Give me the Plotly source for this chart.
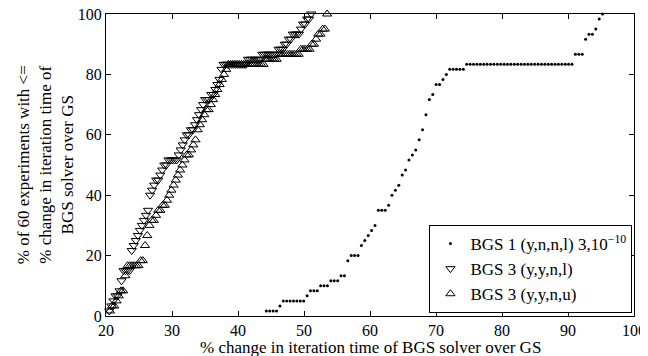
import plotly.graph_objects as go

N_EXPERIMENTS = 60

# BGS 1 (y,n,n,l) 3,10^-10 : x grid and number of experiments with <= x
bgs1_x = [44.29, 44.80, 45.32, 45.83, 46.35, 46.86, 47.38, 47.89, 48.41, 48.92,
          49.44, 49.95, 50.47, 50.98, 51.50, 52.01, 52.52, 53.04, 53.55, 54.07,
          54.58, 55.10, 55.61, 56.13, 56.64, 57.16, 57.67, 58.19, 58.70, 59.21,
          59.73, 60.24, 60.76, 61.27, 61.79, 62.30, 62.82, 63.33, 63.85, 64.36,
          64.88, 65.39, 65.90, 66.42, 66.93, 67.45, 67.96, 68.48, 68.99, 69.51,
          70.02, 70.54, 71.05, 71.57, 72.08, 72.60, 73.11, 73.62, 74.14, 74.65,
          75.17, 75.68, 76.20, 76.71, 77.23, 77.74, 78.26, 78.77, 79.29, 79.80,
          80.32, 80.83, 81.34, 81.86, 82.37, 82.89, 83.40, 83.92, 84.43, 84.95,
          85.46, 85.98, 86.49, 87.01, 87.52, 88.04, 88.55, 89.06, 89.58, 90.09,
          90.61, 91.12, 91.64, 92.15, 92.67, 93.18, 93.70, 94.21, 94.73, 95.24]
bgs1_count = [1, 1, 1, 1, 2, 3, 3, 3, 3, 3,
              3, 3, 4, 5, 5, 5, 6, 6, 6, 7,
              7, 7, 8, 8, 11, 12, 12, 12, 14, 15,
              16, 17, 18, 21, 21, 21, 22, 24, 25, 26,
              28, 29, 31, 32, 33, 35, 37, 40, 43, 44,
              46, 46, 47, 48, 49, 49, 49, 49, 49, 50,
              50, 50, 50, 50, 50, 50, 50, 50, 50, 50,
              50, 50, 50, 50, 50, 50, 50, 50, 50, 50,
              50, 50, 50, 50, 50, 50, 50, 50, 50, 50,
              50, 52, 52, 52, 55, 56, 56, 57, 59, 60]

# BGS 3 (y,y,n,l)
bgs3l_x = [20.50, 20.81, 21.12, 21.43, 21.74, 22.05, 22.35, 22.66, 22.97, 23.28,
           23.59, 23.90, 24.21, 24.52, 24.83, 25.14, 25.44, 25.75, 26.06, 26.37,
           26.68, 26.99, 27.30, 27.61, 27.92, 28.23, 28.53, 28.84, 29.15, 29.46,
           29.77, 30.08, 30.39, 30.70, 31.01, 31.32, 31.62, 31.93, 32.24, 32.55,
           32.86, 33.17, 33.48, 33.79, 34.10, 34.41, 34.71, 35.02, 35.33, 35.64,
           35.95, 36.26, 36.57, 36.88, 37.19, 37.50, 37.80, 38.11, 38.42, 38.73,
           39.04, 39.35, 39.66, 39.97, 40.28, 40.59, 40.90, 41.20, 41.51, 41.82,
           42.13, 42.44, 42.75, 43.06, 43.37, 43.68, 43.99, 44.29, 44.60, 44.91,
           45.22, 45.53, 45.84, 46.15, 46.46, 46.77, 47.08, 47.38, 47.69, 48.00,
           48.31, 48.62, 48.93, 49.24, 49.55, 49.86, 50.17, 50.47, 50.78, 51.09]
bgs3l_count = [1, 2, 3, 4, 4, 5, 7, 9, 9, 9,
               9, 13, 14, 15, 16, 17, 18, 19, 20, 21,
               24, 25, 26, 27, 27, 28, 29, 30, 30, 31,
               31, 31, 31, 31, 32, 33, 34, 35, 36, 36,
               37, 37, 38, 39, 40, 41, 42, 43, 43, 43,
               44, 44, 45, 46, 47, 49, 50, 50, 50, 50,
               50, 50, 50, 50, 50, 50, 50, 50, 51, 51,
               51, 51, 51, 51, 51, 52, 52, 52, 52, 52,
               52, 52, 52, 53, 53, 53, 54, 54, 55, 55,
               56, 56, 56, 56, 57, 58, 58, 59, 59, 60]

# BGS 3 (y,y,n,u)
bgs3u_x = [20.60, 20.93, 21.26, 21.60, 21.93, 22.26, 22.59, 22.93, 23.26, 23.59,
           23.92, 24.26, 24.59, 24.92, 25.25, 25.58, 25.92, 26.25, 26.58, 26.91,
           27.25, 27.58, 27.91, 28.24, 28.58, 28.91, 29.24, 29.57, 29.90, 30.24,
           30.57, 30.90, 31.23, 31.57, 31.90, 32.23, 32.56, 32.90, 33.23, 33.56,
           33.89, 34.22, 34.56, 34.89, 35.22, 35.55, 35.89, 36.22, 36.55, 36.88,
           37.22, 37.55, 37.88, 38.21, 38.54, 38.88, 39.21, 39.54, 39.87, 40.21,
           40.54, 40.87, 41.20, 41.54, 41.87, 42.20, 42.53, 42.86, 43.20, 43.53,
           43.86, 44.19, 44.53, 44.86, 45.19, 45.52, 45.86, 46.19, 46.52, 46.85,
           47.18, 47.52, 47.85, 48.18, 48.51, 48.85, 49.18, 49.51, 49.84, 50.17,
           50.51, 50.84, 51.17, 51.50, 51.84, 52.17, 52.50, 52.83, 53.17, 53.50]
bgs3u_count = [1, 2, 2, 3, 4, 5, 5, 8, 10, 10,
               10, 10, 10, 10, 11, 11, 14, 16, 18, 19,
               19, 20, 21, 21, 22, 22, 23, 24, 25, 26,
               27, 28, 29, 30, 31, 32, 32, 33, 34, 35,
               37, 38, 39, 40, 41, 41, 42, 43, 44, 45,
               46, 47, 48, 49, 50, 50, 50, 50, 50, 50,
               50, 50, 50, 50, 50, 50, 50, 50, 50, 50,
               50, 51, 51, 51, 51, 51, 51, 52, 52, 52,
               52, 52, 52, 52, 52, 52, 52, 53, 53, 53,
               53, 53, 54, 54, 55, 56, 56, 57, 57, 60]

x_ticks = [20, 30, 40, 50, 60, 70, 80, 90, 100]
y_ticks = [0, 20, 40, 60, 80, 100]

series_names = ["BGS 1 (y,n,n,l) 3,10<sup>\u221210</sup>",
                "BGS 3 (y,y,n,l)",
                "BGS 3 (y,y,n,u)"]
x_title = "% change in iteration time of BGS solver over GS"
y_title = ("% of 60 experiments with &lt;=<br>"
           "% change in iteration time of<br>"
           "BGS solver over GS")


def pct(counts):
    return [c * 100.0 / N_EXPERIMENTS for c in counts]


FONT = "Liberation Serif"

fig = go.Figure()
fig.add_trace(go.Scatter(
    x=bgs1_x, y=pct(bgs1_count), mode="markers", name=series_names[0],
    marker=dict(symbol="circle", size=3, color="black", line=dict(width=0)),
    cliponaxis=False))
fig.add_trace(go.Scatter(
    x=bgs3l_x, y=pct(bgs3l_count), mode="markers", name=series_names[1],
    marker=dict(symbol="triangle-down-open", size=8, color="black",
                line=dict(width=1, color="black")),
    cliponaxis=False))
fig.add_trace(go.Scatter(
    x=bgs3u_x, y=pct(bgs3u_count), mode="markers", name=series_names[2],
    marker=dict(symbol="triangle-up-open", size=8, color="black",
                line=dict(width=1, color="black")),
    cliponaxis=False))

axis_common = dict(
    showline=True, linecolor="black", linewidth=1, mirror="ticks",
    ticks="inside", ticklen=5, tickcolor="black", tickwidth=1,
    showgrid=False, zeroline=False, automargin=False,
    ticklabeloverflow="allow",
    tickfont=dict(family=FONT, size=16, color="black"),
)

# The page body keeps its default 8px margin, so the figure is sized to fit
# the 648x356 window from that offset.
fig.update_layout(
    template="none",
    width=640, height=348,
    margin=dict(l=98, r=14, t=6, b=40, autoexpand=False),
    paper_bgcolor="white", plot_bgcolor="white",
    font=dict(family=FONT, color="black", size=17),
    showlegend=True,
    legend=dict(x=0.997, y=0.01, xanchor="right", yanchor="bottom",
                bgcolor="white", bordercolor="black", borderwidth=1,
                font=dict(family=FONT, size=17, color="black"),
                tracegroupgap=0, itemwidth=30),
    xaxis=dict(range=[20, 100], tickvals=x_ticks,
               ticktext=[str(v) for v in x_ticks], **axis_common),
    yaxis=dict(range=[0, 100], tickvals=y_ticks,
               ticktext=[str(v) for v in y_ticks], **axis_common),
    annotations=[
        dict(text=x_title, xref="paper", yref="paper", x=0.5, y=-0.105,
             xanchor="center", yanchor="middle", showarrow=False,
             font=dict(family=FONT, size=17, color="black")),
        dict(text=y_title, xref="paper", yref="paper", x=-0.115, y=0.5,
             xanchor="center", yanchor="middle", showarrow=False,
             textangle=-90,
             font=dict(family=FONT, size=17, color="black")),
    ],
)

fig.write_html("out.html")
